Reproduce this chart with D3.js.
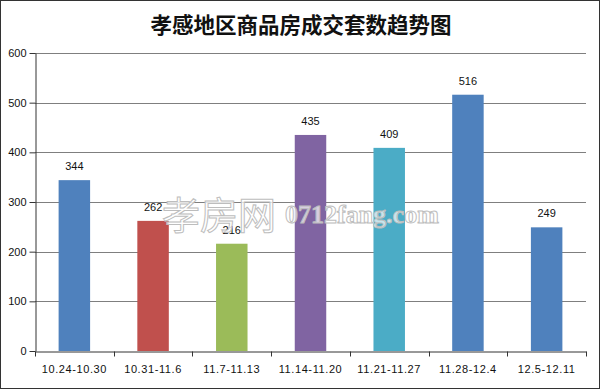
<!DOCTYPE html>
<html>
<head>
<meta charset="utf-8">
<script src="https://cdn.jsdelivr.net/npm/d3@7"></script>
<style>
  body { margin: 0; background: #fff; }
  svg { display: block; }
</style>
</head>
<body>
<div id="chart"></div>
<script>
// data
var categories = ["10.24-10.30", "10.31-11.6", "11.7-11.13", "11.14-11.20", "11.21-11.27", "11.28-12.4", "12.5-12.11"];
var values = [344, 262, 216, 435, 409, 516, 249];
var barColors = ["#4F81BD", "#C0504D", "#9BBB59", "#8064A2", "#4BACC6", "#4F81BD", "#4F81BD"];
var yTicks = [0, 100, 200, 300, 400, 500, 600];
var title = "孝感地区商品房成交套数趋势图";

var W = 600, H = 389;
var margin = {top: 53, right: 14, bottom: 38, left: 35};

var svg = d3.select("#chart").append("svg")
  .attr("width", W)
  .attr("height", H);

svg.append("rect")
  .attr("x", 0.5).attr("y", 0.5)
  .attr("width", W - 1).attr("height", H - 1)
  .attr("fill", "#fff")
  .attr("stroke", "#333");

svg.append("text")
  .attr("x", 301).attr("y", 33)
  .attr("text-anchor", "middle")
  .attr("font-family", "'Noto Sans CJK SC', sans-serif")
  .attr("font-weight", "bold")
  .attr("font-size", 21.5)
  .attr("fill", "#111")
  .text(title);

var x = d3.scaleBand()
  .domain(categories)
  .range([margin.left, W - margin.right])
  .paddingInner(0.6)
  .paddingOuter(0.3);

var xb = d3.scaleBand()
  .domain(categories)
  .range([margin.left, W - margin.right]);

var y = d3.scaleLinear()
  .domain([0, 600])
  .range([H - margin.bottom, margin.top]);

// gridlines
svg.append("g")
  .selectAll("line")
  .data(yTicks.filter(function(d){ return d > 0; }))
  .enter()
  .append("line")
  .attr("x1", margin.left)
  .attr("x2", W - margin.right)
  .attr("y1", function(d){ return Math.round(y(d)) + 0.5; })
  .attr("y2", function(d){ return Math.round(y(d)) + 0.5; })
  .attr("stroke", "#7f7f7f")
  .attr("stroke-width", 1);

// bars
svg.append("g")
  .selectAll("rect")
  .data(values)
  .enter()
  .append("rect")
  .attr("x", function(d, i){ return x(categories[i]); })
  .attr("width", x.bandwidth())
  .attr("y", function(d){ return y(d); })
  .attr("height", function(d){ return y(0) - y(d); })
  .attr("fill", function(d, i){ return barColors[i]; });

// value labels
svg.append("g")
  .selectAll("text")
  .data(values)
  .enter()
  .append("text")
  .attr("x", function(d, i){ return x(categories[i]) + x.bandwidth() / 2; })
  .attr("y", function(d){ return y(d) - 10; })
  .attr("text-anchor", "middle")
  .attr("font-family", "'Liberation Sans', Arial, sans-serif")
  .attr("font-size", 11)
  .attr("fill", "#111")
  .text(function(d){ return d; });

// y axis
var yAxis = svg.append("g")
  .attr("transform", "translate(" + (margin.left + 0.5) + ",0)")
  .call(d3.axisLeft(y).tickValues(yTicks).tickSize(6).tickSizeOuter(0).tickPadding(3));
yAxis.select(".domain").attr("stroke", "#333");
yAxis.selectAll(".tick line").attr("stroke", "#333");
yAxis.selectAll("text")
  .attr("font-family", "'Liberation Sans', Arial, sans-serif")
  .attr("font-size", 11)
  .attr("fill", "#111");

// x axis
var xAxis = svg.append("g")
  .attr("transform", "translate(0," + (Math.round(y(0)) + 0.5) + ")")
  .call(d3.axisBottom(xb).tickSize(0).tickPadding(14));
xAxis.select(".domain").attr("stroke", "#333");
xAxis.selectAll("text")
  .attr("font-family", "'Liberation Sans', Arial, sans-serif")
  .attr("font-size", 11)
  .attr("letter-spacing", 0.6)
  .attr("fill", "#111");

// tick marks at band edges
xAxis.append("g")
  .selectAll("line")
  .data(categories.concat(["end"]))
  .enter()
  .append("line")
  .attr("x1", function(d, i){ return Math.round(i < categories.length ? xb(d) : xb.range()[1]) + 0.5; })
  .attr("x2", function(d, i){ return Math.round(i < categories.length ? xb(d) : xb.range()[1]) + 0.5; })
  .attr("y1", 0)
  .attr("y2", 5)
  .attr("stroke", "#333");

// watermark, stamped over everything
var wm = svg.append("g").attr("pointer-events", "none");
wm.append("text")
  .attr("x", 162).attr("y", 229)
  .attr("font-family", "'Noto Sans CJK SC', sans-serif")
  .attr("font-size", 38)
  .attr("fill", "#fff")
  .attr("fill-opacity", 0.8)
  .attr("stroke", "#bdbdbd")
  .attr("stroke-width", 1)
  .text("孝房网");
wm.append("text")
  .attr("x", 285).attr("y", 223)
  .attr("font-family", "'Liberation Serif', serif")
  .attr("font-weight", "bold")
  .attr("font-size", 26)
  .attr("fill", "#fff")
  .attr("fill-opacity", 0.7)
  .attr("stroke", "#bdbdbd")
  .attr("stroke-width", 1)
  .text("0712fang.com");
</script>
</body>
</html>
